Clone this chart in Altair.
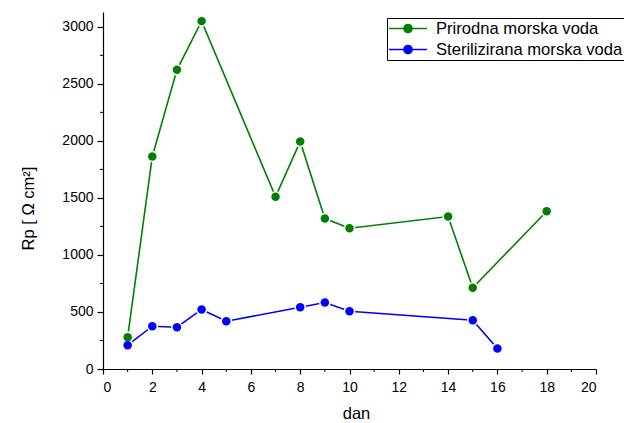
import altair as alt
import pandas as pd

# ---- data ----
series_names = ["Prirodna morska voda", "Sterilizirana morska voda"]
series_colors = ["#008000", "#0000ff"]

days_prirodna = [1, 2, 3, 4, 7, 8, 9, 10, 14, 15, 18]
rp_prirodna = [279, 1863, 2623, 3050, 1510, 1994, 1319, 1234, 1337, 712, 1383]

days_steril = [1, 2, 3, 4, 5, 8, 9, 10, 15, 16]
rp_steril = [209, 375, 366, 522, 419, 542, 583, 507, 428, 180]

x_major = [0, 2, 4, 6, 8, 10, 12, 14, 16, 18, 20]
x_minor = [1, 3, 5, 7, 9, 11, 13, 15, 17, 19]
y_major = [0, 500, 1000, 1500, 2000, 2500, 3000]
y_minor = [250, 750, 1250, 1750, 2250, 2750]

x_domain = [0, 20]
y_domain = [0, 3130]

df = pd.DataFrame(
    {
        "dan": days_prirodna + days_steril,
        "rp": rp_prirodna + rp_steril,
        "serija": [series_names[0]] * len(days_prirodna)
        + [series_names[1]] * len(days_steril),
    }
)
df_xminor = pd.DataFrame({"dan": x_minor})
df_yminor = pd.DataFrame({"rp": y_minor})

FONT = "Liberation Sans"
W, H = 493, 357

x_axis = alt.Axis(
    values=x_major,
    format="d",
    title="dan",
    tickSize=5,
    labelPadding=6,
    titleX=253,
    titleY=49,
    titleAlign="center",
    titleBaseline="alphabetic",
)
y_axis = alt.Axis(
    values=y_major,
    format="d",
    title="Rp [ Ω cm²]",
    tickSize=6,
    labelPadding=4,
    titleAngle=270,
    titleX=-74.5,
    titleY=196,
    titleAlign="center",
    titleBaseline="middle",
)
x_scale = alt.Scale(domain=x_domain, nice=False, zero=False)
y_scale = alt.Scale(domain=y_domain, nice=False)

x_enc = alt.X("dan:Q", scale=x_scale, axis=x_axis)
y_enc = alt.Y("rp:Q", scale=y_scale, axis=y_axis)
color_scale = alt.Scale(domain=series_names, range=series_colors)

# line - dot - line legend glyph, unit box -1..1
legend_path = (
    "M-1,0L-0.21,0M0.21,0A0.21,0.21,0,1,1,-0.21,0A0.21,0.21,0,1,1,0.21,0Z"
    "M0.21,0L1,0"
)

leg = alt.Legend(
    title=None,
    orient="none",
    legendX=284,
    legendY=6,
    symbolType=legend_path,
    symbolSize=1444,
    symbolStrokeWidth=1.6,
    symbolOffset=0,
    clipHeight=19,
    rowPadding=2,
    padding=1,
    labelOffset=8,
    labelFont=FONT,
    labelFontSize=16.6,
    labelColor="black",
    labelLimit=400,
    strokeColor="black",
    fillColor="white",
)

color_enc = alt.Color("serija:N", scale=color_scale, legend=leg)

lines = (
    alt.Chart(df)
    .mark_line(strokeWidth=1.6)
    .encode(x=x_enc, y=y_enc, color=color_enc)
)

halo = (
    alt.Chart(df)
    .mark_point(filled=True, color="white", size=135, opacity=1)
    .encode(x=x_enc, y=y_enc, detail="serija:N")
)

points = (
    alt.Chart(df)
    .mark_point(filled=True, size=72, opacity=1, strokeWidth=1)
    .encode(x=x_enc, y=y_enc, color=color_enc)
)

x_minor_ticks = (
    alt.Chart(df_xminor)
    .mark_rule(color="black", strokeWidth=1)
    .encode(x=x_enc, y=alt.value(H), y2=alt.value(H + 3))
)
y_minor_ticks = (
    alt.Chart(df_yminor)
    .mark_rule(color="black", strokeWidth=1)
    .encode(y=y_enc, x=alt.value(-3), x2=alt.value(0))
)

chart = (
    alt.layer(lines, halo, points, x_minor_ticks, y_minor_ticks)
    .properties(
        width=W,
        height=H,
        autosize=alt.AutoSizeParams(type="none"),
        padding={"left": 95, "top": 4, "right": 28, "bottom": 52},
    )
    .configure_view(stroke=None)
    .configure_axis(
        grid=False,
        domainColor="black",
        domainWidth=1.2,
        tickColor="black",
        tickWidth=1.2,
        labelColor="black",
        labelFont=FONT,
        labelFontSize=14,
        titleColor="black",
        titleFont=FONT,
        titleFontSize=16.5,
        titleFontWeight="normal",
    )
)

chart.save("out.html", embed_options={"renderer": "svg", "actions": False})
